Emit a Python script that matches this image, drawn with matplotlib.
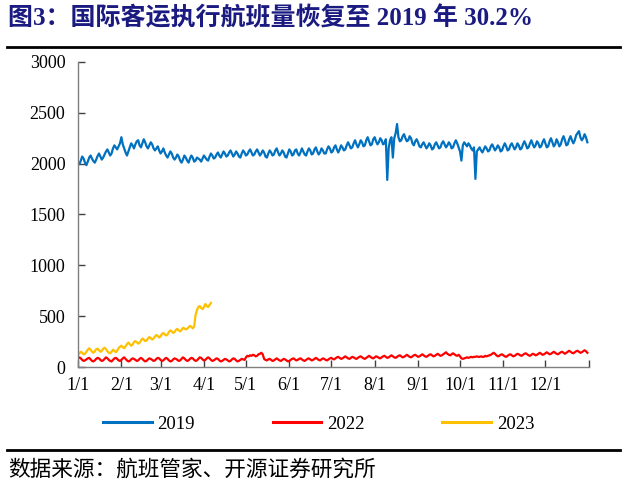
import numpy as np
import matplotlib
matplotlib.use("Agg")
import matplotlib.pyplot as plt
from matplotlib.lines import Line2D

plt.rcParams['font.family'] = ['Liberation Serif', 'Noto Sans CJK SC']

# 国际客运执行航班量（班次/日），每行一周
v2019 = [
    2006, 1995, 2030, 2070, 2050, 2010, 1985,
    2020, 2060, 2080, 2050, 2025, 2010, 2040,
    2075, 2100, 2070, 2040, 2060, 2090, 2120,
    2140, 2110, 2080, 2100, 2150, 2180, 2160,
    2140, 2170, 2200, 2260, 2190, 2150, 2110,
    2080, 2120, 2160, 2200, 2180, 2150, 2190,
    2220, 2230, 2180, 2160, 2200, 2240, 2210,
    2170, 2150, 2180, 2210, 2190, 2150, 2130,
    2150, 2170, 2130, 2100, 2120, 2150, 2110,
    2080, 2060, 2090, 2120, 2100, 2060, 2040,
    2060, 2090, 2070, 2030, 2010, 2040, 2080,
    2060, 2030, 2010, 2050, 2080, 2060, 2020,
    2030, 2060, 2050, 2040, 2020, 2050, 2080,
    2060, 2040, 2030, 2070, 2100, 2080, 2050,
    2060, 2090, 2110, 2080, 2060, 2090, 2120,
    2100, 2070, 2080, 2110, 2130, 2100, 2070,
    2090, 2120, 2100, 2070, 2060, 2100, 2130,
    2110, 2080, 2090, 2120, 2140, 2110, 2080,
    2090, 2120, 2140, 2110, 2080, 2100, 2130,
    2110, 2070, 2060, 2100, 2130, 2110, 2080,
    2090, 2130, 2150, 2110, 2080, 2100, 2130,
    2110, 2070, 2060, 2100, 2140, 2120, 2080,
    2090, 2130, 2140, 2100, 2080, 2110, 2150,
    2120, 2090, 2080, 2120, 2150, 2130, 2090,
    2100, 2140, 2160, 2120, 2090, 2110, 2150,
    2130, 2100, 2100, 2140, 2170, 2150, 2110,
    2120, 2160, 2180, 2140, 2110, 2140, 2180,
    2160, 2130, 2140, 2180, 2210, 2180, 2150,
    2160, 2200, 2230, 2190, 2160, 2190, 2230,
    2210, 2170, 2180, 2230, 2260, 2220, 2180,
    2190, 2240, 2260, 2220, 2190, 2210, 2250,
    2230, 2190, 2200, 2240, 1840, 2150, 2230,
    2260, 2060, 2250, 2300, 2390, 2260, 2220,
    2230, 2270, 2290, 2250, 2220, 2230, 2270,
    2250, 2200, 2180, 2220, 2240, 2210, 2170,
    2160, 2190, 2210, 2180, 2150, 2170, 2200,
    2180, 2140, 2150, 2190, 2210, 2180, 2150,
    2160, 2200, 2220, 2190, 2160, 2180, 2210,
    2190, 2150, 2160, 2200, 2230, 2200, 2160,
    2120, 2030, 2180, 2210, 2190, 2170, 2200,
    2180, 2150, 2130, 2160, 1850, 2120, 2140,
    2160, 2130, 2110, 2140, 2170, 2150, 2120,
    2130, 2170, 2190, 2160, 2130, 2150, 2180,
    2160, 2120, 2130, 2170, 2200, 2170, 2130,
    2140, 2180, 2200, 2170, 2140, 2160, 2200,
    2180, 2140, 2150, 2190, 2220, 2190, 2150,
    2160, 2200, 2230, 2190, 2160, 2180, 2220,
    2200, 2160, 2170, 2210, 2240, 2200, 2160,
    2170, 2220, 2250, 2210, 2170, 2190, 2240,
    2210, 2170, 2190, 2240, 2270, 2230, 2180,
    2190, 2240, 2270, 2230, 2200, 2230, 2280,
    2300, 2320, 2260, 2230, 2250, 2290, 2260,
    2210,
]

v2022 = [
    80, 95, 85, 70, 60, 65, 75,
    85, 90, 75, 60, 55, 65, 80,
    90, 85, 70, 60, 65, 80, 95,
    85, 70, 60, 55, 70, 85, 90,
    80, 65, 60, 70, 85, 95, 80,
    65, 55, 60, 75, 85, 80, 70,
    60, 65, 80, 90, 80, 65, 55,
    60, 75, 85, 80, 70, 60, 65,
    80, 90, 85, 70, 60, 65, 80,
    90, 80, 65, 55, 60, 75, 85,
    80, 70, 60, 65, 80, 95, 85,
    70, 60, 65, 80, 90, 85, 70,
    60, 65, 80, 95, 90, 75, 65,
    70, 85, 95, 85, 70, 60, 65,
    75, 85, 80, 65, 55, 60, 70,
    80, 75, 65, 55, 60, 75, 85,
    80, 65, 55, 60, 70, 80, 75,
    70, 95, 110, 105, 115, 110, 120,
    115, 105, 110, 125, 130, 140, 125,
    80, 70, 65, 75, 80, 70, 60,
    65, 75, 85, 75, 65, 60, 70,
    80, 75, 65, 55, 60, 70, 80,
    85, 75, 65, 70, 80, 85, 75,
    65, 60, 70, 80, 85, 75, 65,
    70, 80, 90, 80, 70, 65, 75,
    85, 80, 70, 65, 75, 85, 90,
    80, 75, 85, 95, 100, 90, 80,
    85, 95, 105, 95, 85, 80, 90,
    100, 95, 85, 80, 90, 100, 105,
    95, 85, 80, 90, 100, 110, 100,
    90, 85, 95, 105, 100, 90, 85,
    95, 105, 110, 100, 90, 95, 105,
    115, 105, 95, 90, 100, 110, 115,
    105, 95, 100, 110, 120, 110, 100,
    95, 105, 115, 120, 110, 100, 105,
    115, 125, 115, 105, 100, 110, 120,
    125, 115, 105, 110, 120, 130, 120,
    110, 115, 125, 135, 145, 130, 120,
    115, 125, 135, 125, 115, 110, 120,
    105, 85, 80, 85, 90, 95, 90,
    95, 100, 95, 100, 100, 105, 100,
    100, 105, 100, 100, 110, 105, 110,
    115, 120, 130, 140, 130, 115, 105,
    110, 120, 125, 115, 105, 100, 110,
    120, 125, 115, 105, 110, 120, 130,
    125, 115, 110, 120, 130, 135, 125,
    115, 110, 120, 130, 125, 115, 120,
    130, 140, 130, 120, 125, 135, 145,
    135, 125, 130, 140, 150, 140, 130,
    125, 135, 145, 150, 140, 130, 140,
    150, 160, 150, 140, 135, 145, 155,
    160, 150, 140, 145, 155, 165, 155,
    140,
]

v2023 = [
    120, 135, 150, 140, 125, 130, 150,
    170, 185, 170, 150, 140, 155, 175,
    180, 165, 150, 160, 180, 190, 175,
    155, 140, 135, 150, 170, 160, 145,
    160, 185, 200, 210, 195, 185, 205,
    225, 240, 225, 210, 220, 245, 255,
    245, 230, 240, 260, 280, 270, 255,
    260, 280, 295, 285, 270, 280, 300,
    315, 305, 290, 300, 325, 335, 320,
    310, 320, 345, 360, 350, 335, 345,
    365, 375, 360, 350, 365, 385, 380,
    370, 375, 390, 405, 395, 380, 400,
    510, 560, 590, 600, 580, 570, 590,
    620, 600, 590, 610, 630,
]

month_labels = ['1/1', '2/1', '3/1', '4/1', '5/1', '6/1', '7/1', '8/1',
                '9/1', '10/1', '11/1', '12/1']
month_start = [0, 31, 59, 90, 120, 151, 181, 212, 243, 273, 304, 334]

fig = plt.figure(figsize=(6.27, 4.99), dpi=100)
ax = fig.add_axes([0.1244, 0.2645, 0.8146, 0.6113])

ax.plot(np.arange(len(v2019)), v2019, color='#0070C0', lw=1.6, label='2019')
ax.plot(np.arange(len(v2022)), v2022, color='#FF0000', lw=1.6, label='2022')
ax.plot(np.arange(len(v2023)), v2023, color='#FFC000', lw=1.6, label='2023')

ax.set_xlim(0, 365)
ax.set_ylim(0, 3000)
ax.set_yticks(np.arange(0, 3001, 500))
ax.set_xticks(month_start + [365])
ax.set_xticklabels(month_labels + [''])
for s in ['top', 'right']:
    ax.spines[s].set_visible(False)
for s in ['left', 'bottom']:
    ax.spines[s].set_color('#7f7f7f')
    ax.spines[s].set_linewidth(1.0)
ax.tick_params(axis='both', direction='in', length=5, color='#404040',
               labelsize=13, width=1)
ax.tick_params(axis='y', pad=9)
ax.tick_params(axis='x', pad=7)

handles = [Line2D([], [], color=c, lw=2.2) for c in ['#0070C0', '#FF0000', '#FFC000']]
fig.legend(handles, ['2019', '2022', '2023'], loc='center', ncol=3,
           bbox_to_anchor=(0.508, 0.150), frameon=False, fontsize=13.5,
           handlelength=2.6, handletextpad=0.3, columnspacing=4.15)

# 标题与来源
fig.text(0.013, 0.963, '图3：国际客运执行航班量恢复至 2019 年 30.2%',
         fontsize=18, fontweight='bold', color='#1a1a80', va='center', ha='left')
fig.add_artist(Line2D([0.011, 0.989], [0.906, 0.906], color='black', lw=2))
fig.add_artist(Line2D([0.011, 0.989], [0.098, 0.098], color='black', lw=2))
fig.text(0.013, 0.058, '数据来源：航班管家、开源证券研究所',
         fontsize=15.6, color='black', va='center', ha='left')

fig.savefig('out.png', dpi=100)
